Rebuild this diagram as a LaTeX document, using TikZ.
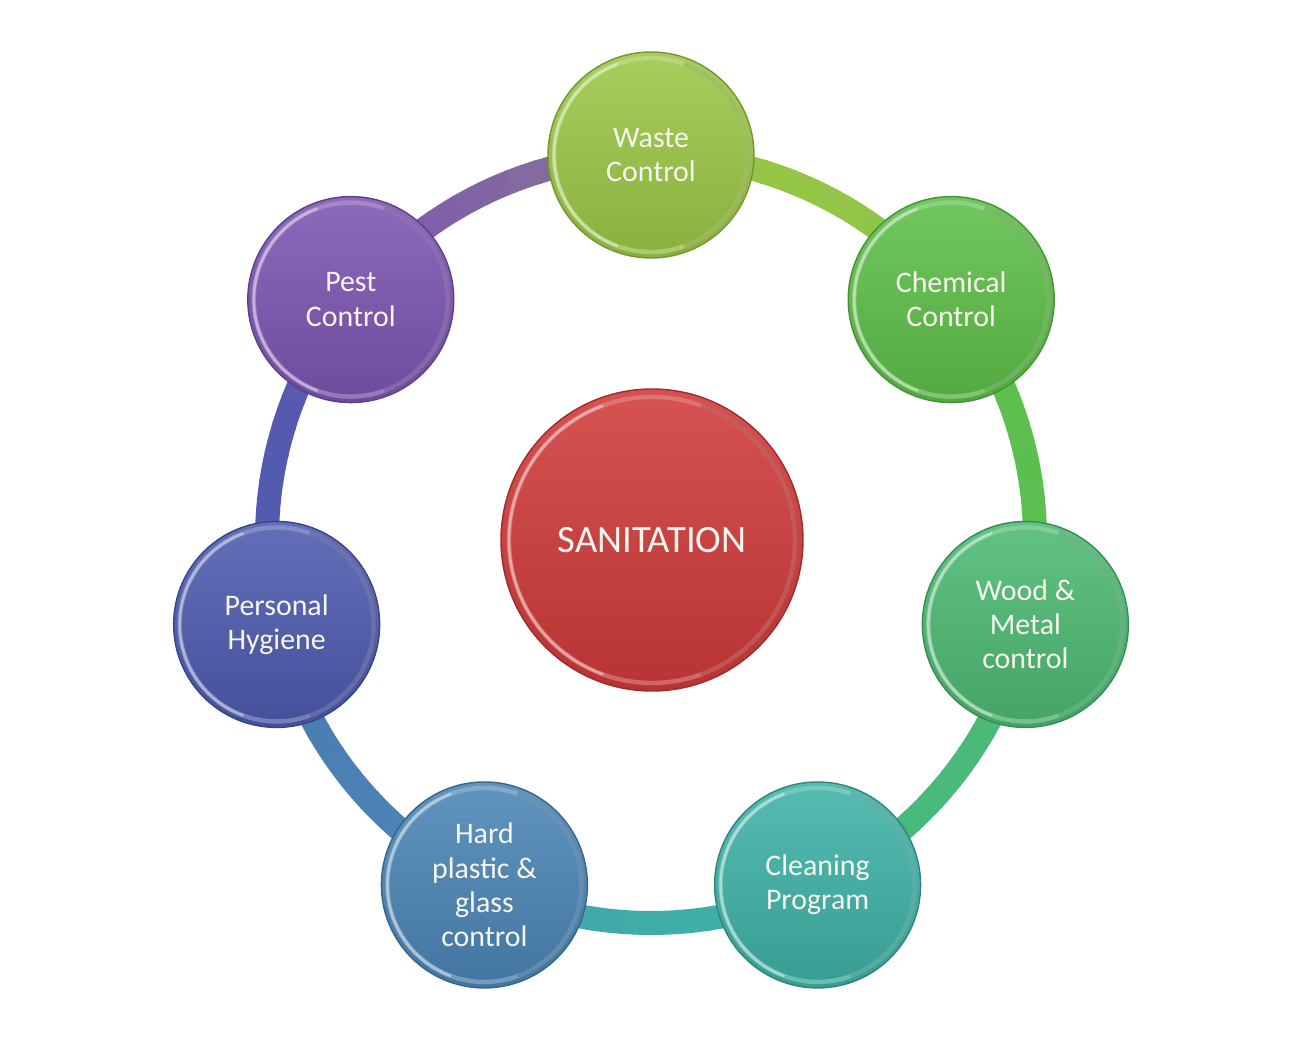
\documentclass[tikz,border=0pt]{standalone}
\usepackage{fontspec}
\setmainfont{Carlito}
\usetikzlibrary{calc,positioning}
\definecolor{wastec}{HTML}{9CC746}
\definecolor{chemc}{HTML}{5EC049}
\definecolor{woodc}{HTML}{4CBA73}
\definecolor{cleanc}{HTML}{3FB2A6}
\definecolor{hardc}{HTML}{4B86B6}
\definecolor{hygc}{HTML}{4E5BAF}
\definecolor{pestc}{HTML}{7D55B2}
\definecolor{sanc}{HTML}{D03B3A}
\definecolor{labelc}{HTML}{F6F6EE}
\tikzset{
    button/.style n args={3}{circle, minimum size=#2, inner sep=0pt,
        draw=#1!75!black, line width=0.8pt,
        top color=#1!88!white, bottom color=#1!88!black,
        text=labelc, align=center,
        path picture={
            \draw[#1!55!white, opacity=.55, line width=2.5pt]
                (path picture bounding box.center) circle (#3);
            \draw[white, opacity=.4, line width=1.5pt]
                ([shift={(110:#3)}]path picture bounding box.center)
                arc[start angle=110, end angle=250, radius=#3];
            \draw[#1!70!black, opacity=.3, line width=2.5pt]
                ([shift={(-70:#3)}]path picture bounding box.center)
                arc[start angle=-70, end angle=70, radius=#3];
        }},
    band/.style={line width=0.48cm, line cap=butt},
    small/.style={font=\fontsize{17}{19.5}\selectfont},
}

\begin{document}
\begin{tikzpicture}

    \useasboundingbox (0,0) rectangle (26,20.8);
    \coordinate (ring) at (13.02,10.02);

    % Draw ring band with a colour gradient.
    \foreach \cur/\nxt [count=\k from 0] in {wastec/chemc,chemc/woodc,woodc/cleanc,
            cleanc/hardc,hardc/hygc,hygc/pestc,pestc/wastec}
        \foreach \t in {0,...,11}{
            \pgfmathsetmacro\sa{90-\k*360/7-\t*360/84+0.15}
            \pgfmathsetmacro\ea{\sa-360/84-0.3}
            \pgfmathtruncatemacro\mix{100-\t*2.5}
            \draw[band, \cur!\mix!\nxt] ([shift={(\sa:7.68)}]ring)
                arc[start angle=\sa, end angle=\ea, radius=7.68];
        }

    % Draw outer buttons.
    \foreach \name/\col/\txt [count=\k from 0] in {
            waste/wastec/{Waste\\Control},
            chem/chemc/{Chemical\\Control},
            wood/woodc/{Wood \&\\Metal\\control},
            clean/cleanc/{Cleaning\\Program},
            hard/hardc/{Hard\\plastic \&\\glass\\control},
            hyg/hygc/{Personal\\Hygiene},
            pest/pestc/{Pest\\Control}}
        \node[button={\col}{4.12cm}{1.94cm}, small] (\name)
            at ([shift={(90-\k*360/7:7.68)}]ring) {\txt};

    % Draw centre button.
    \node[button={sanc}{6.04cm}{2.86cm}, font=\fontsize{22}{26}\selectfont]
        (san) at (13.04,10.0) {SANITATION};
\end{tikzpicture}
\end{document}
